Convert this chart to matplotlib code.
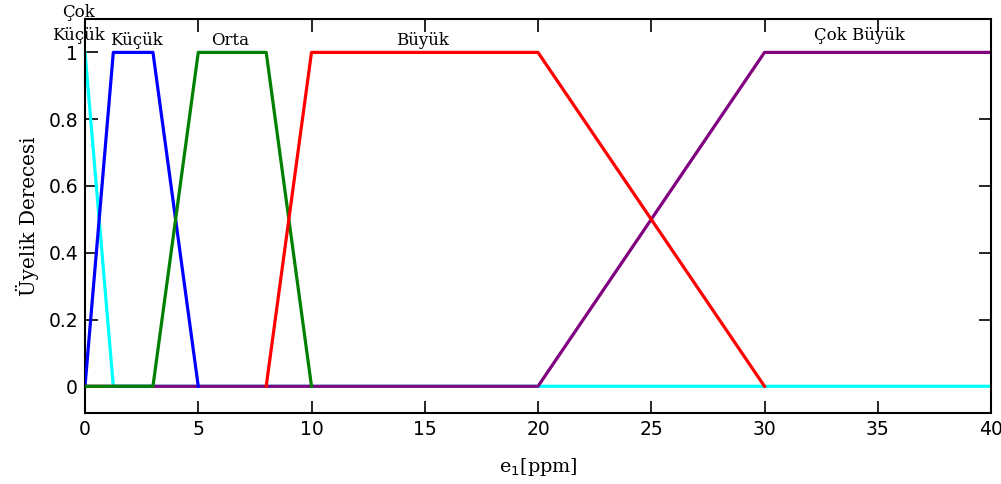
import matplotlib
matplotlib.use("Agg")
import matplotlib.pyplot as plt

# Membership functions (breakpoints)
cok_kucuk_x = [0, 1.25, 40]
cok_kucuk_y = [1, 0, 0]
kucuk_x = [0, 1.25, 3, 5]
kucuk_y = [0, 1, 1, 0]
orta_x = [0, 3, 5, 8, 10]
orta_y = [0, 0, 1, 1, 0]
buyuk_x = [8, 10, 20, 30]
buyuk_y = [0, 1, 1, 0]
cok_buyuk_x = [0, 20, 30, 40]
cok_buyuk_y = [0, 0, 1, 1]

labels = ["Çok\nKüçük", "Küçük", "Orta", "Büyük", "Çok Büyük"]
label_x = [-0.3, 2.25, 6.4, 14.9, 34.2]
label_y = [1.085, 1.037, 1.037, 1.037, 1.052]

x_ticks = [0, 5, 10, 15, 20, 25, 30, 35, 40]
y_ticks = [0, 0.2, 0.4, 0.6, 0.8, 1]
y_ticklabels = ["0", "0.2", "0.4", "0.6", "0.8", "1"]

fig = plt.figure(figsize=(10.01, 4.84), dpi=100)
ax = fig.add_axes([85/1001, 1-413/484, (991-85)/1001, (413-19)/484])

lw = 2.3
ax.plot(cok_kucuk_x, cok_kucuk_y, color="#00ffff", lw=lw, zorder=2)
ax.plot(kucuk_x, kucuk_y, color="#0000ff", lw=lw, zorder=3)
ax.plot(orta_x, orta_y, color="#008000", lw=lw, zorder=3)
ax.plot(buyuk_x, buyuk_y, color="#ff0000", lw=lw, zorder=3)
ax.plot(cok_buyuk_x, cok_buyuk_y, color="#800080", lw=lw, zorder=2.5)

ax.set_xlim(0, 40)
ax.set_ylim(-0.08, 1.1)
ax.set_xticks(x_ticks)
ax.set_yticks(y_ticks)
ax.set_yticklabels(y_ticklabels)
ax.tick_params(direction="in", length=9, width=1.2, top=True, right=True,
               labelsize=13.5, pad=5)
for s in ax.spines.values():
    s.set_linewidth(1.5)

serif = ["DejaVu Serif"]
for t, x, y in zip(labels, label_x, label_y):
    ax.text(x, y, t, ha="center", va="center", fontsize=12, family=serif,
            linespacing=1.4, clip_on=False)

ax.set_ylabel("Üyelik Derecesi", fontsize=14.3, family=serif, labelpad=7)
ax.set_xlabel("e$_1$[ppm]", fontsize=13.8, family=serif, labelpad=12)

fig.savefig("out.png", dpi=100)
